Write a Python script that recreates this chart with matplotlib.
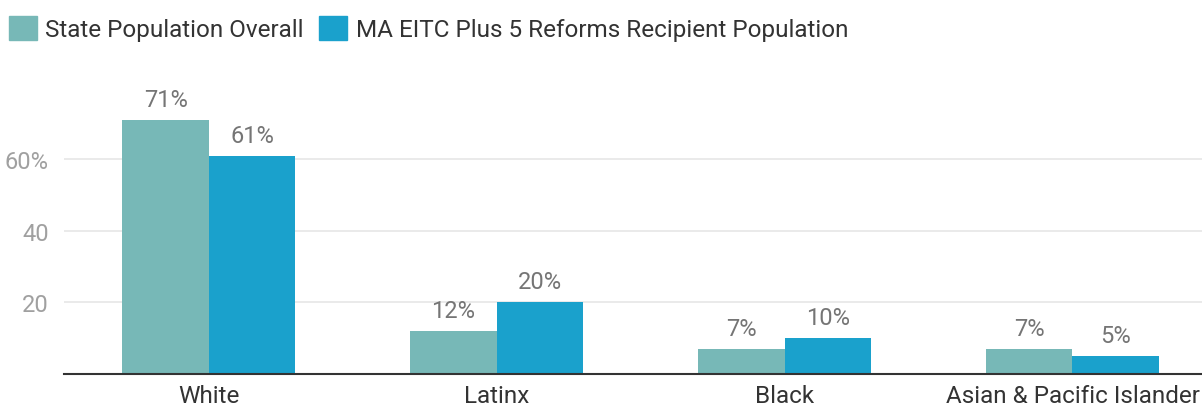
import numpy as np
import matplotlib.pyplot as plt
from matplotlib.patches import Patch

plt.rcParams['font.family'] = ['Roboto', 'DejaVu Sans']

categories = ['White', 'Latinx', 'Black', 'Asian & Pacific Islander']
state_overall = [71, 12, 7, 7]
eitc_recipients = [61, 20, 10, 5]
series_names = ['State Population Overall', 'MA EITC Plus 5 Reforms Recipient Population']
colors = ['#77b8b7', '#1aa1cc']

fig = plt.figure(figsize=(12.02, 4.06), dpi=100)
ax = fig.add_axes([64 / 1202, 1 - 375 / 406, 1 - 64 / 1202, (375 - 80) / 406])

x = np.arange(len(categories))
w = 0.3
b1 = ax.bar(x - w / 2, state_overall, w, color=colors[0])
b2 = ax.bar(x + w / 2, eitc_recipients, w, color=colors[1])

for bars, vals in [(b1, state_overall), (b2, eitc_recipients)]:
    for bar, v in zip(bars, vals):
        ax.text(bar.get_x() + bar.get_width() / 2, v + 2.6, f"{v}%",
                ha='center', va='bottom', fontsize=17, color='#757575')

ax.set_xlim(-0.503, 3.45)
ax.set_ylim(0, 82.5)
ax.set_yticks([20, 40, 60])
ax.set_yticklabels(['20', '40', '60%'], fontsize=17, color='#a0a0a0')
ax.set_xticks(x)
ax.set_xticklabels(categories, fontsize=17.5, color='#333333')
ax.tick_params(axis='both', length=0)
ax.tick_params(axis='x', pad=7)
ax.tick_params(axis='y', pad=11)
ax.grid(axis='y', color='#e6e6e6', linewidth=1.2)
ax.set_axisbelow(True)
for s in ['top', 'right', 'left']:
    ax.spines[s].set_visible(False)
ax.spines['bottom'].set_color('#333333')
ax.spines['bottom'].set_linewidth(1.5)

handles = [Patch(color=c) for c in colors]
fig.legend(handles, series_names, loc='upper left', bbox_to_anchor=(-0.007, 1.0),
           ncol=2, frameon=False, fontsize=17.5, labelcolor='#333333',
           handlelength=1.15, handleheight=1.15, handletextpad=0.35,
           columnspacing=0.65, borderaxespad=0.3)

fig.savefig('out.png', dpi=100)
